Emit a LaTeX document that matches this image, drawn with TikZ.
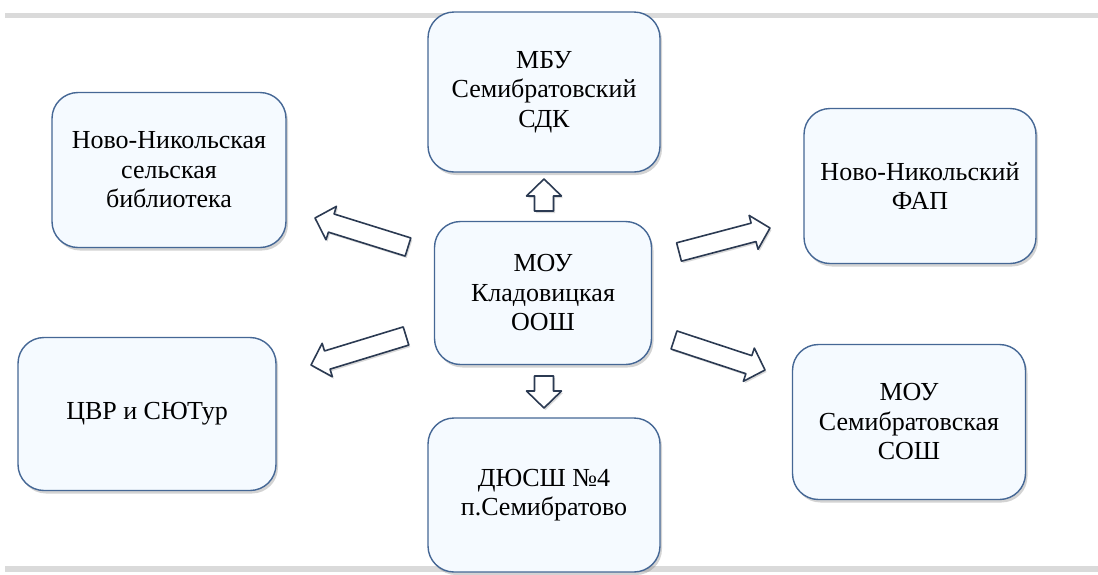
\documentclass[tikz,border=0pt]{standalone}
\usepackage{fontspec}
\setmainfont{Liberation Serif}
\newfontfamily\boxfont{Liberation Serif}
\usetikzlibrary{calc,shadows}
\definecolor{boxline}{HTML}{456795}
\definecolor{boxfill}{HTML}{F5FAFF}
\definecolor{arrline}{HTML}{2B3A52}
\definecolor{bandgray}{HTML}{DADADA}
\tikzset{
  box/.style={draw=boxline, line width=1.4pt, fill=boxfill, rounded corners=26pt,
    align=center, font=\boxfont\fontsize{26}{29.5}\selectfont,
    drop shadow={opacity=0.35, shadow xshift=2pt, shadow yshift=-3pt}},
  barrow/.style={draw=arrline, line width=1.6pt, fill=white, line join=round,
    drop shadow={opacity=0.3, shadow xshift=1.5pt, shadow yshift=-2pt}},
  band/.style={fill=bandgray, draw=none}
}
\newcommand{\blkarr}[2]{%
  \coordinate (h#1) at ($(#2)!17pt!(#1)$);
  \draw[barrow] ($(#1)!9.5pt!90:(#2)$) -- ($(h#1)!9.5pt!90:(#2)$) -- ($(h#1)!17.5pt!90:(#2)$) -- (#2)
    -- ($(h#1)!17.5pt!-90:(#2)$) -- ($(h#1)!9.5pt!-90:(#2)$) -- ($(#1)!9.5pt!-90:(#2)$) -- cycle;}
\begin{document}
\begin{tikzpicture}[x=1pt,y=-1pt]
\useasboundingbox (0,0) rectangle (1098,574);
% page-edge bands
\fill[band] (5,13) rectangle (1098,18);
\fill[band] (5,566) rectangle (1098,572);
% boxes
\node[box, minimum width=232pt, minimum height=160pt] (mbu) at (544,92) {МБУ\\Семибратовский\\СДК};
\node[box, minimum width=234pt, minimum height=155pt] (lib) at (169,170) {Ново-Никольская\\сельская\\библиотека};
\node[box, minimum width=232pt, minimum height=155pt] (fap) at (920,186) {Ново-Никольский\\ФАП};
\node[box, minimum width=217pt, minimum height=143pt] (moo) at (543,293) {МОУ\\Кладовицкая\\ООШ};
\node[box, minimum width=258pt, minimum height=153pt] (cvr) at (147,414) {ЦВР и СЮТур};
\node[box, minimum width=233pt, minimum height=155pt] (sosh) at (909,422) {МОУ\\Семибратовская\\СОШ};
\node[box, minimum width=232pt, minimum height=154pt] (dyu) at (544,495) {ДЮСШ №4\\п.Семибратово};
% arrow end points
\coordinate (tU) at (544,211); \coordinate (pU) at (544,179);
\coordinate (tD) at (544,376); \coordinate (pD) at (544,408);
\coordinate (tUL) at (408,247); \coordinate (pUL) at (315,218);
\coordinate (tLL) at (406,336); \coordinate (pLL) at (311,365);
\coordinate (tUR) at (679,252); \coordinate (pUR) at (770,228);
\coordinate (tLR) at (674,340); \coordinate (pLR) at (765,370);
\blkarr{tU}{pU}
\blkarr{tD}{pD}
\blkarr{tUL}{pUL}
\blkarr{tLL}{pLL}
\blkarr{tUR}{pUR}
\blkarr{tLR}{pLR}
\end{tikzpicture}
\end{document}
